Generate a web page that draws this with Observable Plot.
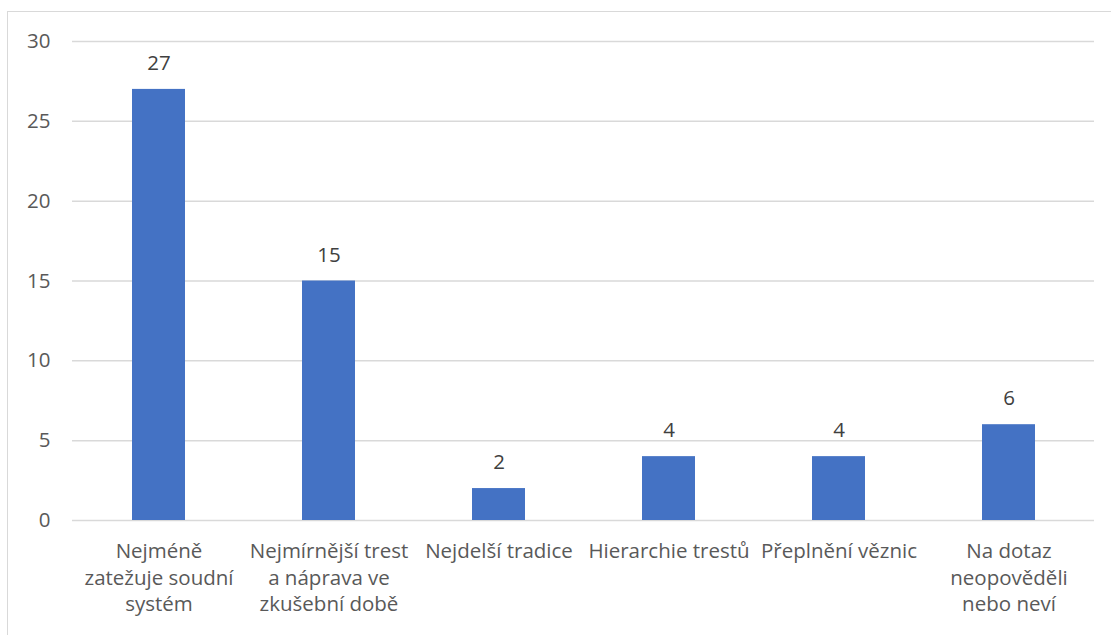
<!DOCTYPE html>
<html>
<head>
<meta charset="utf-8">
<script src="https://cdn.jsdelivr.net/npm/d3@7"></script>
<script src="https://cdn.jsdelivr.net/npm/@observablehq/plot@0.6"></script>
<style>
  html, body { margin: 0; padding: 0; background: #fff; }
  #wrap { position: relative; width: 1111px; height: 635px; overflow: hidden; }
  #border { position: absolute; left: 7px; top: 11px; width: 1200px; height: 700px; border: 1px solid #d9d9d9; box-sizing: border-box; }
  #chart { position: absolute; left: 0; top: 0; }
</style>
</head>
<body>
<div id="wrap"><div id="border"></div><div id="chart"></div></div>
<script>
const categories = [
  "Nejméně zatežuje soudní systém",
  "Nejmírnější trest a náprava ve zkušební době",
  "Nejdelší tradice",
  "Hierarchie trestů",
  "Přeplnění věznic",
  "Na dotaz neopověděli nebo neví"
];
const values = [27, 15, 2, 4, 4, 6];
const tickLabels = [
  "Nejméně\nzatežuje soudní\nsystém",
  "Nejmírnější trest\na náprava ve\nzkušební době",
  "Nejdelší tradice",
  "Hierarchie trestů",
  "Přeplnění věznic",
  "Na dotaz\nneopověděli\nnebo neví"
];
const yTicks = [0, 5, 10, 15, 20, 25, 30];

const data = categories.map((c, i) => ({category: c, value: values[i], label: tickLabels[i]}));
const labelOf = new Map(data.map(d => [d.category, d.label]));

const font = "'Open Sans', sans-serif";
const fs = 20.5;
const plot = Plot.plot({
  width: 1111,
  height: 635,
  marginLeft: 72,
  marginRight: 17,
  marginTop: 41,
  marginBottom: 115,
  style: {fontFamily: font, fontSize: fs + "px", color: "#595959", background: "transparent"},
  x: {domain: categories, paddingInner: 0.69, paddingOuter: 0.345, label: null},
  y: {domain: [0, 30], label: null},
  marks: [
    Plot.gridY(yTicks, {stroke: "#d9d9d9", strokeOpacity: 1, strokeWidth: 1.5}),
    Plot.barY(data, {x: "category", y: "value", fill: "#4472c4"}),
    Plot.text(data, {x: "category", y: "value", text: d => String(d.value), dy: -26, fill: "#404040", fontSize: fs}),
    Plot.axisY({ticks: yTicks, tickSize: 0, tickPadding: 22, fontSize: fs, fill: "#595959", label: null}),
    Plot.axisX({tickSize: 0, tickPadding: 19, fontSize: fs, fill: "#595959", lineHeight: 1.29, textAnchor: "middle", tickFormat: d => labelOf.get(d), label: null, lineAnchor: "top"})
  ]
});
document.getElementById("chart").appendChild(plot);
</script>
</body>
</html>
